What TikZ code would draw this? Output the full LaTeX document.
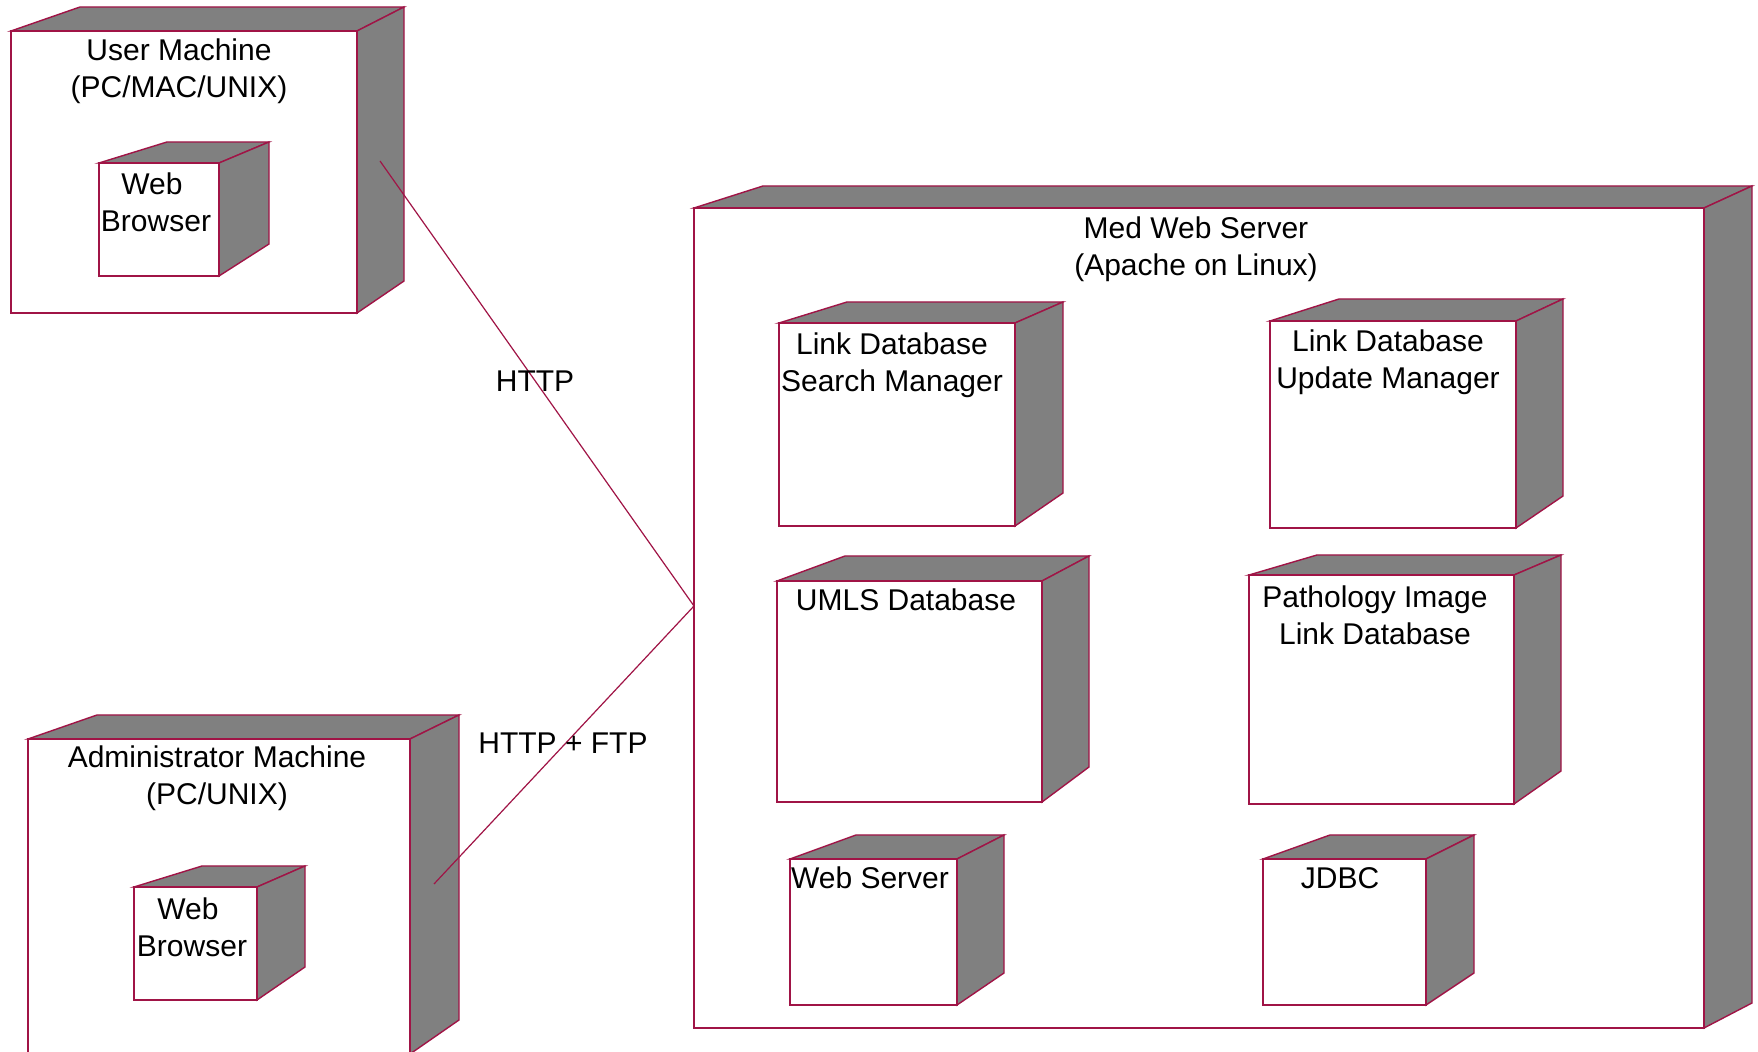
\documentclass[tikz,border=0pt]{standalone}
\usepackage{fontspec}
\setmainfont{Liberation Sans}
\usetikzlibrary{fit}
\definecolor{edge}{RGB}{160,20,70}
\definecolor{shade}{RGB}{128,128,128}
\tikzset{
  box/.style={draw=edge, fill=white, line width=0.7pt, inner sep=0pt, outer sep=0pt},
  side/.style={draw=edge, fill=shade, line width=0.7pt, line join=miter},
  % anchored at the baseline of the last line of text
  lbl/.style={anchor=base, align=center, inner sep=0pt, font=\fontsize{15}{18.5}\selectfont},
  link/.style={draw=edge, line width=0.6pt},
}
% 3-D deployment node: name, front x1,y1,x2,y2, back-left x, back-right x, back y, side bottom y
\newcommand\umlnode[9]{%
  \path[side] (#2,#3) -- (#6,#8) -- (#7,#8) -- (#4,#3) -- cycle;
  \path[side] (#4,#3) -- (#7,#8) -- (#7,#9) -- (#4,#5) -- cycle;
  \node[box, fit={(#2,#3) (#4,#5)}] (#1) {};
}
\begin{document}
\begin{tikzpicture}[x=0.5pt,y=-0.5pt]
\useasboundingbox (0,0) rectangle (1758,1052);
\fill[white] (0,0) rectangle (1758,1052);

% machines
\umlnode{user}{11}{31}{357}{313}{80}{404}{7}{281}
\umlnode{userwb}{99}{163}{219}{276}{167}{269}{142}{244}
\umlnode{admin}{28}{739}{410}{1054}{97}{459}{715}{1020}
\umlnode{adminwb}{134}{887}{257}{1000}{202}{305}{866}{967}

% server and its components
\umlnode{server}{694}{208}{1704}{1028}{763}{1752}{186}{1003}
\umlnode{search}{779}{323}{1015}{526}{847}{1063}{302}{493}
\umlnode{update}{1270}{321}{1516}{528}{1339}{1563}{299}{496}
\umlnode{umls}{777}{581}{1042}{802}{845}{1089}{556}{767}
\umlnode{patho}{1249}{575}{1514}{804}{1317}{1561}{555}{771}
\umlnode{websrv}{790}{859}{957}{1005}{856}{1004}{835}{973}
\umlnode{jdbc}{1263}{859}{1426}{1005}{1330}{1474}{835}{973}

% labels
\node[lbl] (tuser) at (179,98) {User Machine\\(PC/MAC/UNIX)};
\node[lbl] (tuserwb) at (156,232) {Web\hspace*{4pt}\\Browser};
\node[lbl] (tadmin) at (217,805) {Administrator Machine\\(PC/UNIX)};
\node[lbl] (tadminwb) at (192,957) {Web\hspace*{4pt}\\Browser};
\node[lbl] (tserver) at (1196,276) {Med Web Server\\(Apache on Linux)};
\node[lbl] (tsearch) at (892,392) {Link Database\\Search Manager};
\node[lbl] (tupdate) at (1388,389) {Link Database\\Update Manager};
\node[lbl] (tumls) at (906,611) {UMLS Database};
\node[lbl] (tpatho) at (1375,645) {Pathology Image\\Link Database};
\node[lbl] (twebsrv) at (870,889) {Web Server};
\node[lbl] (tjdbc) at (1340,889) {JDBC};

% communication links
\coordinate (userport) at (380,161);
\coordinate (adminport) at (434,884);
\coordinate (srvport) at (server.west |- 0,606);
\draw[link] (userport) -- (srvport);
\draw[link] (srvport) -- (adminport);
\node[lbl] (http) at (535,392) {HTTP};
\node[lbl] (httpftp) at (563,754) {HTTP + FTP};
\end{tikzpicture}
\end{document}
